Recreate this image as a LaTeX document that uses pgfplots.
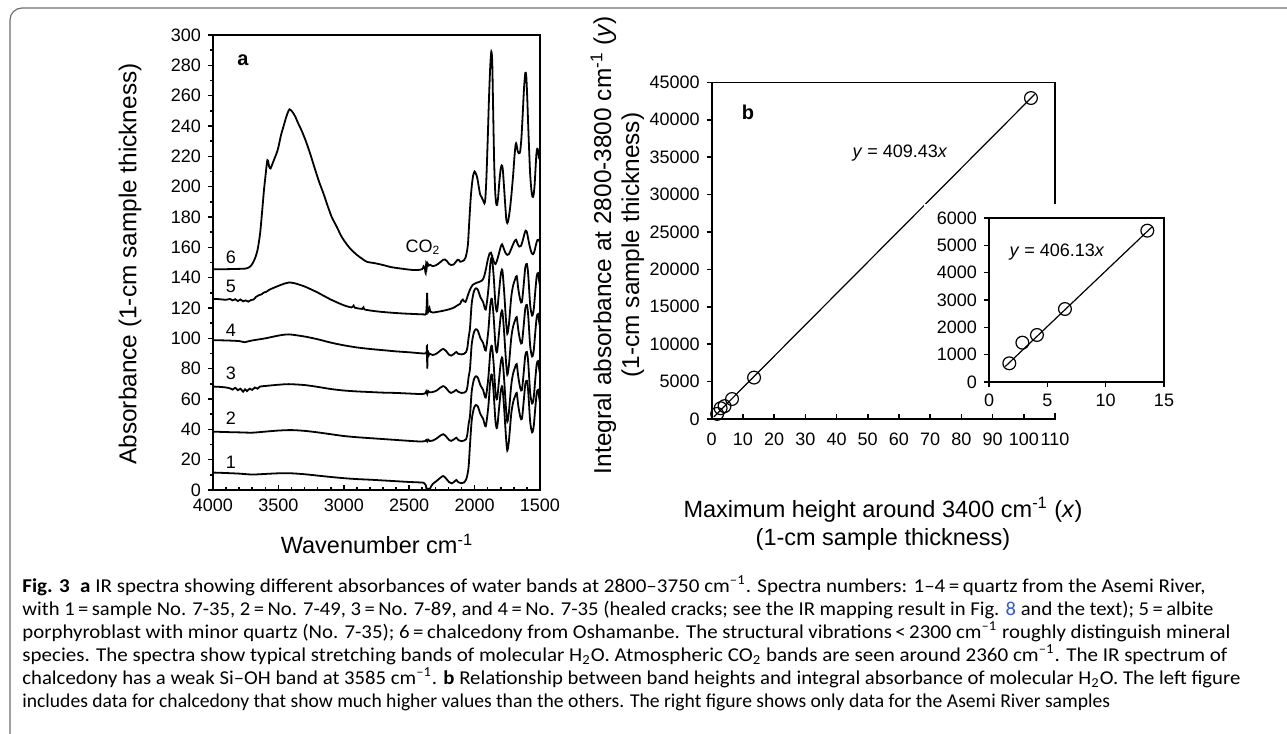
\documentclass[border=0pt]{standalone}
\usepackage{fontspec}
\setmainfont{Liberation Sans}
\newfontfamily\capfont{Carlito}
\usepackage{graphicx}
\usepackage{pgfplots}
\pgfplotsset{compat=1.18}
\definecolor{linkblue}{RGB}{50,90,200}
\definecolor{framegray}{RGB}{110,110,110}
\newcommand{\ticksize}{\fontsize{9}{10.8}\selectfont}
\newcommand{\labsize}{\fontsize{11.75}{14}\selectfont}
\newcommand{\ylabsize}{\fontsize{12.2}{14}\selectfont}
\newcommand{\capsize}{\fontsize{9.8}{11.5}\selectfont}
\pgfplotsset{
  every axis/.append style={
    scale only axis, anchor=south west,
    axis line style={line width=0.8pt},
    tick style={black, line width=0.8pt},
    major tick length=2.5pt, minor tick length=1.5pt,
    tick label style={font=\ticksize},
    /pgf/number format/assume math mode=true,
    /pgf/number format/1000 sep={},
    scaled ticks=false,
  },
  spec/.style={black, line width=0.9pt, smooth, tension=0.45},
}
\begin{document}
\begin{tikzpicture}
\path[use as bounding box] (0pt,0pt) rectangle (643.5pt,-367pt);
\begin{scope}
\clip (0pt,0pt) rectangle (643.5pt,-367pt);
\draw[framegray, line width=0.6pt, rounded corners=6pt] (5pt,-380pt) -- (5pt,-4pt) -- (700pt,-4pt);
\end{scope}

% ---------- panel a ----------
\begin{axis}[at={(106.5pt,-245pt)}, width=163.5pt, height=227.5pt,
  xmin=1500, xmax=4000, x dir=reverse, ymin=0, ymax=300,
  xtick={1500,2000,...,4000}, minor x tick num=4, ytick=\empty,
  tick align=inside, xtick pos=bottom,
  xticklabel style={yshift=-1pt}]
% spectrum 1
\addplot[spec] coordinates {
(4000,11.5) (3900,11.2) (3800,10.8) (3700,10.2) (3600,10.6) (3500,11.0) (3400,11.0) (3300,10.4) (3200,9.5) (3100,8.6) (3000,7.8) (2900,7.2) (2800,6.8) (2700,6.3) (2600,5.8) (2500,5.3) (2420,5.0) (2390,4.8) (2375,3.5) (2368,1.0) (2362,0.0) (2355,0.8) (2345,0.2) (2335,2.0) (2320,4.0) (2290,6.0) (2260,8.2) (2240,9.2) (2220,7.8) (2195,5.2) (2175,4.4) (2155,5.5) (2140,6.6) (2125,5.2) (2100,4.5) (2080,5.0) (2065,7.0) (2055,10) (2045,16)
(2035,30) (2022,46) (2005,54) (1990,56) (1975,55) (1955,50) (1935,47) (1915,42) (1895,55) (1880,72) (1868,76) (1855,65) (1840,45) (1828,41) (1815,52) (1800,65) (1788,68) (1775,55) (1760,35) (1750,26) (1738,32) (1720,50) (1705,58) (1690,62) (1678,64) (1665,55) (1650,48) (1638,47) (1625,58) (1612,70) (1600,72) (1590,65) (1575,45) (1560,38) (1548,42) (1535,55) (1525,64) (1515,66) (1505,60) (1500,58)};
% spectrum 2
\addplot[spec] coordinates {
(4000,38.5) (3900,38.2) (3800,38.0) (3700,37.8) (3600,38.5) (3500,39.2) (3400,39.5) (3300,39.0) (3200,38.0) (3100,36.8) (3000,35.6) (2900,34.8) (2800,34.2) (2700,33.6) (2600,33.0) (2500,32.4) (2420,32.0) (2380,32.2) (2370,33.0) (2362,32.0) (2355,33.2) (2345,32.4) (2320,32.6) (2290,34.0) (2260,36.0) (2240,36.8) (2220,35.5) (2195,33.0) (2180,32.4) (2160,33.2) (2140,34.5) (2125,33.0) (2100,32.2) (2080,32.6) (2065,33.5) (2055,37) (2045,44)
(2035,49) (2022,65) (2005,73) (1990,75) (1975,74) (1955,69) (1935,66) (1915,61) (1895,74) (1880,91) (1868,95) (1855,84) (1840,64) (1828,60) (1815,71) (1800,84) (1788,87) (1775,74) (1760,54) (1750,45) (1738,51) (1720,69) (1705,77) (1690,81) (1678,83) (1665,74) (1650,67) (1638,66) (1625,77) (1612,89) (1600,91) (1590,84) (1575,64) (1560,57) (1548,61) (1535,74) (1525,83) (1515,85) (1505,79) (1500,77)};
% spectrum 3
\addplot[spec] coordinates {
(4000,68.2) (3950,68.0) (3900,67.6) (3870,67.0) (3850,66.2) (3830,67.4) (3810,65.8) (3790,66.8) (3770,64.8) (3755,66.4) (3740,65.2) (3720,66.8) (3700,66.0) (3680,67.6) (3660,66.8) (3640,68.2) (3600,68.6) (3500,69.4) (3420,69.8) (3300,69.2) (3200,68.0) (3100,66.6) (3000,65.6) (2900,65.0) (2800,64.6) (2700,64.2) (2600,64.0) (2500,63.6) (2420,63.3) (2380,63.6) (2370,65.0) (2362,63.2) (2355,65.2) (2345,64.4) (2320,64.6) (2290,65.6) (2260,67.6) (2240,68.5) (2220,67.4) (2195,64.8) (2180,64.0) (2160,64.8) (2140,66.0) (2125,64.8) (2100,64.0) (2080,64.2) (2065,65.0) (2055,68) (2045,75)
(2035,80) (2022,96) (2005,104) (1990,106) (1975,105) (1955,100) (1935,97) (1915,92) (1895,105) (1880,122) (1868,126) (1855,115) (1840,95) (1828,91) (1815,102) (1800,115) (1788,118) (1775,105) (1760,85) (1750,76) (1738,82) (1720,100) (1705,108) (1690,112) (1678,114) (1665,105) (1650,98) (1638,97) (1625,108) (1612,120) (1600,122) (1590,115) (1575,95) (1560,88) (1548,92) (1535,105) (1525,114) (1515,116) (1505,110) (1500,108)};
% spectrum 4
\addplot[spec] coordinates {
(4000,98.8) (3900,98.6) (3800,98.2) (3760,97.4) (3740,97.8) (3700,98.6) (3600,100.0) (3500,101.8) (3420,102.6) (3300,101.2) (3200,99.4) (3100,97.2) (3000,95.4) (2900,94.0) (2800,93.0) (2700,92.2) (2600,91.4) (2500,90.8) (2420,90.2) (2380,90.0) (2368,90.5) (2364,95.0) (2362,80.0) (2358,91.0) (2350,89.0) (2345,90.0) (2320,89.0) (2290,90.0) (2260,92.0) (2240,93.0) (2220,91.8) (2195,89.2) (2180,88.6) (2160,89.6) (2140,91.0) (2125,89.8) (2100,89.4) (2080,89.8) (2065,91.0) (2055,94) (2045,101)
(2035,107) (2022,123) (2005,131) (1990,133) (1975,132) (1955,127) (1935,124) (1915,119) (1895,132) (1880,149) (1868,153) (1855,142) (1840,122) (1828,118) (1815,129) (1800,142) (1788,145) (1775,132) (1760,112) (1750,103) (1738,109) (1720,127) (1705,135) (1690,139) (1678,141) (1665,132) (1650,125) (1638,124) (1625,135) (1612,147) (1600,149) (1590,142) (1575,122) (1560,115) (1548,119) (1535,132) (1525,141) (1515,143) (1505,137) (1500,135)};
% spectrum 5
\addplot[spec] coordinates {
(4000,126.0) (3950,125.8) (3900,125.4) (3870,126.0) (3850,125.0) (3830,125.8) (3810,124.6) (3790,125.6) (3770,124.4) (3750,125.0) (3730,124.2) (3710,125.2) (3690,125.6) (3670,127.4) (3650,128.4) (3630,129.0) (3610,130.2) (3590,130.8) (3570,132.0) (3550,132.8) (3500,134.6) (3450,136.2) (3420,136.8) (3380,136.4) (3300,134.2) (3200,130.2) (3100,125.6) (3000,121.8) (2940,120.4) (2925,121.6) (2915,120.2) (2860,119.4) (2850,120.4) (2840,119.0) (2750,117.8) (2650,117.0) (2550,116.4) (2450,116.0) (2390,115.8) (2372,116.0) (2366,122) (2363,130) (2360,122) (2356,117.2) (2350,118.6) (2345,120.0) (2338,117.6) (2320,117.0) (2290,117.4) (2250,118.0) (2200,119.0) (2160,120.2) (2130,121.8) (2110,122.8) (2100,124.8) (2090,125.6) (2080,124.4) (2070,124.0) (2060,126.0) (2045,130.0) (2030,133.0) (2015,135.2) (2000,136.0) (1985,136.6) (1965,137.2) (1945,138.0) (1930,140.0) (1915,145.0) (1900,151.5) (1885,156.0) (1875,156.5) (1862,153.0) (1850,150.0) (1840,149.0) (1828,151.5) (1812,156.5) (1798,161.0) (1790,162.0) (1780,160.0) (1765,156.5) (1750,155.0) (1738,155.5) (1722,158.5) (1708,161.5) (1695,164.0) (1682,165.0) (1670,162.0) (1658,160.5) (1645,161.0) (1632,164.5) (1620,168.5) (1610,171.0) (1600,170.0) (1590,165.5) (1578,160.5) (1565,156.5) (1553,155.5) (1542,157.5) (1530,162.0) (1520,164.8) (1510,165.0) (1500,163.0)};
% spectrum 6
\addplot[spec] coordinates {
(4000,145.5) (3900,145.6) (3800,145.8) (3750,146.0) (3720,147.0) (3700,149.0) (3680,152.5) (3660,158.0) (3640,169.0) (3625,183.0) (3610,198.0) (3600,206.0) (3590,214.0) (3584,217.5) (3578,216.5) (3570,213.0) (3560,212.0) (3548,214.5) (3530,218.5) (3514,222.0) (3500,226.0) (3480,234.0) (3460,240.0) (3440,246.0) (3425,249.5) (3415,251.0) (3405,250.5) (3390,249.0) (3370,246.0) (3350,242.0) (3320,236.5) (3290,230.0) (3258,222.0) (3220,211.5) (3190,203.5) (3156,195.6) (3120,186.5) (3090,179.5) (3054,173.6) (3020,167.5) (2990,163.5) (2953,159.4) (2900,155.0) (2860,152.5) (2825,150.5) (2760,149.5) (2698,148.3) (2640,147.0) (2580,146.2) (2545,145.8) (2490,145.2) (2443,145.0) (2400,145.6) (2390,147.5) (2380,146.0) (2374,143.0) (2370,149.5) (2365,147.0) (2360,149.5) (2350,148.0) (2340,148.5) (2320,147.6) (2300,148.0) (2280,149.0) (2260,150.4) (2240,151.8) (2226,152.0) (2210,150.8) (2195,149.0) (2178,148.3) (2160,148.7) (2145,150.2) (2130,151.8) (2120,151.6) (2110,150.5) (2095,150.8) (2080,151.6) (2068,153.5) (2058,157.5) (2050,163) (2040,178) (2030,192) (2022,200) (2012,207) (2000,210) (1990,208.5) (1980,206) (1970,201) (1958,195) (1946,193) (1935,191) (1925,189) (1918,192) (1910,205) (1900,230) (1890,258) (1880,280) (1872,289) (1865,282) (1858,250) (1850,215) (1842,196) (1835,189) (1828,188) (1820,193) (1810,204) (1800,212) (1792,214) (1785,212) (1775,200) (1765,187) (1757,178) (1750,176) (1742,178) (1730,185) (1718,195) (1705,208) (1695,220) (1686,228) (1680,228) (1672,224) (1662,222) (1652,223) (1642,232) (1632,248) (1622,265) (1612,275) (1605,273) (1598,260) (1590,240) (1582,222) (1575,208) (1566,198) (1558,193.5) (1550,194) (1542,200) (1534,212) (1527,222) (1521,225) (1515,224) (1508,219) (1500,218)};
\end{axis}
\begin{axis}[at={(106.5pt,-245pt)}, width=163.5pt, height=227.5pt,
  xmin=1500, xmax=4000, x dir=reverse, ymin=0, ymax=300,
  xtick=\empty, ytick={0,20,...,300}, minor y tick num=1,
  tick align=outside, ytick pos=left]
\end{axis}

% ---------- panel b ----------
\begin{axis}[at={(355.85pt,-209.5pt)}, width=171.65pt, height=168.35pt,
  xmin=0, xmax=110, ymin=0, ymax=45000,
  xtick={0,10,...,110}, ytick=\empty, tick align=inside, xtick pos=bottom,
  xticklabel style={yshift=-3.5pt}]
\addplot[black, line width=0.6pt] coordinates {(0.7,290) (103.5,43400)};
\addplot[black, only marks, mark=o, mark size=3.2pt, mark options={line width=0.6pt}] coordinates {
(1.74,684) (2.86,1439) (4.11,1720) (6.51,2671) (13.57,5537) (102.3,42900)};
\end{axis}
\begin{axis}[at={(355.85pt,-209.5pt)}, width=171.65pt, height=168.35pt,
  xmin=0, xmax=110, ymin=0, ymax=45000,
  xtick=\empty, ytick={0,5000,...,45000}, tick align=outside, ytick pos=left]
\end{axis}

\fill[white] (462pt,-102pt) rectangle (593pt,-206.5pt);
\begin{axis}[at={(494.5pt,-191pt)}, width=87.5pt, height=82pt,
  xmin=0, xmax=15, ymin=0, ymax=6000,
  xtick={0,5,10,15}, ytick={0,1000,...,6000}, tick align=outside,
  xtick pos=bottom, ytick pos=left]
\addplot[black, line width=0.6pt] coordinates {(1.4,569) (13.95,5666)};
\addplot[black, only marks, mark=o, mark size=3.2pt, mark options={line width=0.6pt}] coordinates {
(1.74,684) (2.86,1439) (4.11,1720) (6.51,2671) (13.57,5537)};
\end{axis}

% ---------- labels ----------
\node[rotate=90, font=\ylabsize] at (65pt,-132pt) {Absorbance (1-cm sample thickness)};
\node[font=\labsize] at (188.5pt,-272pt) {Wavenumber cm\textsuperscript{-1}};
\node[rotate=90, font=\ylabsize, align=center] at (308.75pt,-122.5pt) {Integral absorbance at 2800-3800 cm\textsuperscript{-1} (\textit{y})\\(1-cm sample thickness)};
\node[font=\labsize, align=center] at (441.5pt,-262pt) {Maximum height around 3400 cm\textsuperscript{-1} (\textit{x})\\(1-cm sample thickness)};

\node[font=\fontsize{10}{12}\selectfont\bfseries] at (121.5pt,-30pt) {a};
\node[font=\fontsize{10}{12}\selectfont\bfseries] at (374pt,-56pt) {b};
\node[font=\ticksize] at (450pt,-76.5pt) {\textit{y} = 409.43\textit{x}};
\node[font=\ticksize] at (528.5pt,-126pt) {\textit{y} = 406.13\textit{x}};
\node[font=\ticksize] at (211.5pt,-123.5pt) {CO\textsubscript{2}};
\node[font=\ticksize] at (115.5pt,-128.5pt) {6};
\node[font=\ticksize] at (115.5pt,-143pt) {5};
\node[font=\ticksize] at (115.5pt,-165pt) {4};
\node[font=\ticksize] at (115.5pt,-186.5pt) {3};
\node[font=\ticksize] at (115.5pt,-209pt) {2};
\node[font=\ticksize] at (115.5pt,-231pt) {1};

% ---------- caption ----------
\begin{scope}[every node/.style={anchor=base west, inner sep=0pt, font=\capfont\capsize}]
\node at (11pt,-296pt) {\resizebox{591.5pt}{\height}{\textbf{Fig. 3}\enspace\textbf{a} IR spectra showing different absorbances of water bands at 2800–3750 cm\textsuperscript{–1}. Spectra numbers: 1–4\,=\,quartz from the Asemi River,}};
\node at (11pt,-307.5pt) {\resizebox{595.5pt}{\height}{with 1\,=\,sample No. 7-35, 2\,=\,No. 7-49, 3\,=\,No. 7-89, and 4\,=\,No. 7-35 (healed cracks; see the IR mapping result in Fig. \textcolor{linkblue}{8} and the text); 5\,=\,albite}};
\node at (11pt,-319pt) {\resizebox{604pt}{\height}{porphyroblast with minor quartz (No. 7-35); 6\,=\,chalcedony from Oshamanbe. The structural vibrations\,<\,2300 cm\textsuperscript{–1} roughly distinguish mineral}};
\node at (11pt,-330.5pt) {\resizebox{602.5pt}{\height}{species. The spectra show typical stretching bands of molecular H\textsubscript{2}O. Atmospheric CO\textsubscript{2} bands are seen around 2360 cm\textsuperscript{–1}. The IR spectrum of}};
\node at (11pt,-342pt) {\resizebox{609pt}{\height}{chalcedony has a weak Si–OH band at 3585 cm\textsuperscript{–1}. \textbf{b} Relationship between band heights and integral absorbance of molecular H\textsubscript{2}O. The left figure}};
\node at (11pt,-353.5pt) {includes data for chalcedony that show much higher values than the others. The right figure shows only data for the Asemi River samples};
\end{scope}
\end{tikzpicture}
\end{document}
